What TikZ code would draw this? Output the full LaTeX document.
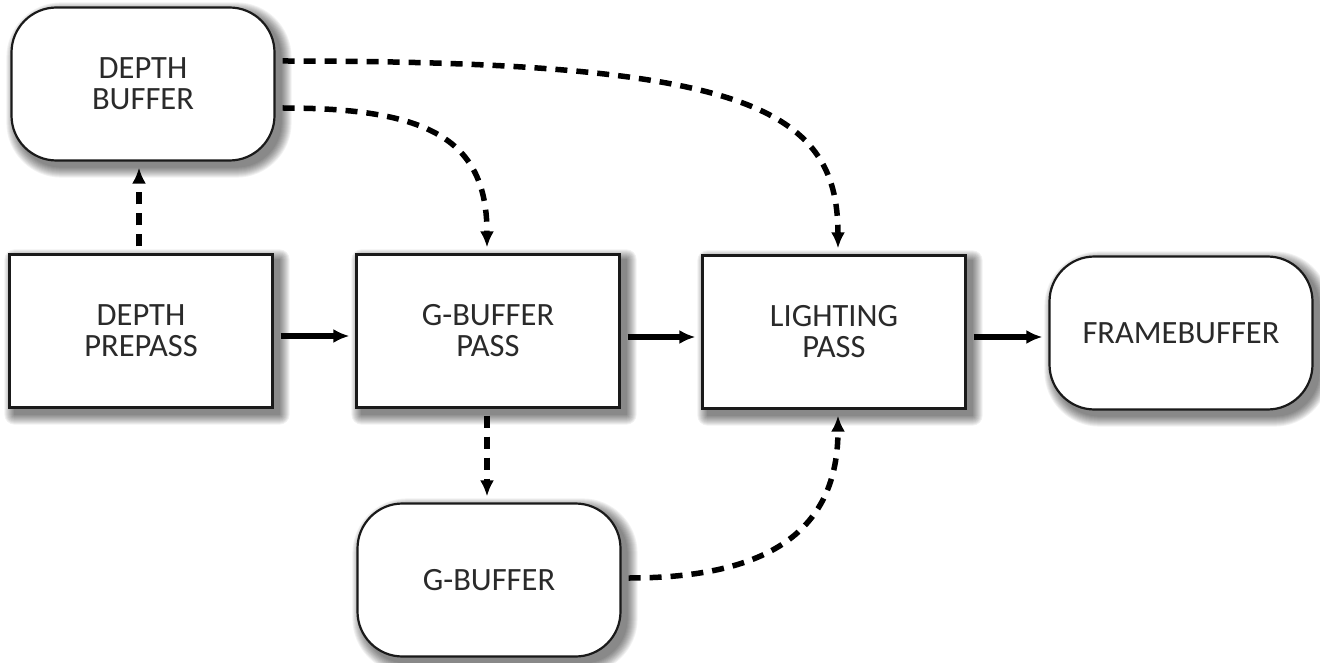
\documentclass[tikz,border=0pt]{standalone}
\usepackage{fontspec}
\setmainfont{Carlito}
\usetikzlibrary{arrows.meta,backgrounds}
\definecolor{inkgray}{HTML}{2A2A2A}
\definecolor{edgegray}{HTML}{1A1A1A}
\tikzset{
  passbox/.style={draw=edgegray, line width=2.2pt, fill=white, rectangle,
    minimum width=263pt, minimum height=153pt, inner sep=0pt, align=center,
    text=inkgray, font=\fontsize{32.5}{31}\selectfont},
  bufbox/.style={passbox, rounded corners=45pt},
  flow/.style={line width=5.5pt, -{Latex[length=16pt,width=14pt]}, shorten <=7pt, shorten >=6pt},
  dataflow/.style={flow, dash pattern=on 12pt off 9pt},
  shadowlayer/.style={black, opacity=0.055}
}
% soft drop shadow: stacked translucent copies of the box outline,
% offset down and to the right; #1 node name, #2 corner radius
\newcommand{\softshadow}[2]{%
  \begin{scope}[on background layer]
    \foreach \k [evaluate=\k as \r using #2+\k] in {0,...,10} {
      \fill[shadowlayer, rounded corners=\r pt]
        ([shift={(6-\k,6-\k)}]#1.north west) rectangle
        ([shift={(6+\k,6+\k)}]#1.south east);
    }
  \end{scope}}
\begin{document}
\begin{tikzpicture}[x=1pt,y=-1pt]
  \useasboundingbox (0,0) rectangle (1320,663);

  % nodes
  \node[bufbox]  (dbuf)  at (143,84)   {DEPTH\\BUFFER};
  \node[passbox] (dpre)  at (141,331)  {DEPTH\\PREPASS};
  \node[passbox] (gpass) at (488,331)  {G-BUFFER\\PASS};
  \node[passbox] (light) at (834,332)  {LIGHTING\\PASS};
  \node[bufbox]  (fbuf)  at (1181,333) {FRAMEBUFFER};
  \node[bufbox]  (gbuf)  at (489,580)  {G-BUFFER};

  % shadows behind the boxes
  \softshadow{dbuf}{45}
  \softshadow{dpre}{0}
  \softshadow{gpass}{0}
  \softshadow{light}{0}
  \softshadow{fbuf}{45}
  \softshadow{gbuf}{45}

  % anchor points on the box edges
  \coordinate (dbufR1) at (dbuf.east |- 0,61);
  \coordinate (dbufR2) at (dbuf.east |- 0,108);
  \coordinate (gpassT) at (487,0 |- gpass.north);
  \coordinate (lightT) at (838,0 |- light.north);
  \coordinate (lightB) at (838,0 |- light.south);
  \coordinate (gbufR)  at (gbuf.east |- 0,578);
  \coordinate (dpreT)  at (139,0 |- dpre.north);
  \coordinate (dbufB)  at (139,0 |- dbuf.south);
  \coordinate (gpassB) at (487,0 |- gpass.south);
  \coordinate (gbufT)  at (487,0 |- gbuf.north);

  % solid pass-to-pass flow
  \draw[flow] (dpre.east |- 0,336) -- (gpass.west |- 0,336);
  \draw[flow] (gpass.east |- 0,337) -- (light.west |- 0,337);
  \draw[flow] (light.east |- 0,337) -- (fbuf.west |- 0,337);

  % dashed buffer reads and writes
  \draw[dataflow] (dpreT) -- (dbufB);
  \draw[dataflow] (gpassB) -- (gbufT);
  \draw[dataflow] (dbufR2) .. controls (430,108) and (487,140) .. (gpassT);
  \draw[dataflow] (dbufR1) .. controls (740,61) and (838,105) .. (lightT);
  \draw[dataflow] (gbufR) .. controls (770,578) and (838,530) .. (lightB);
\end{tikzpicture}
\end{document}
